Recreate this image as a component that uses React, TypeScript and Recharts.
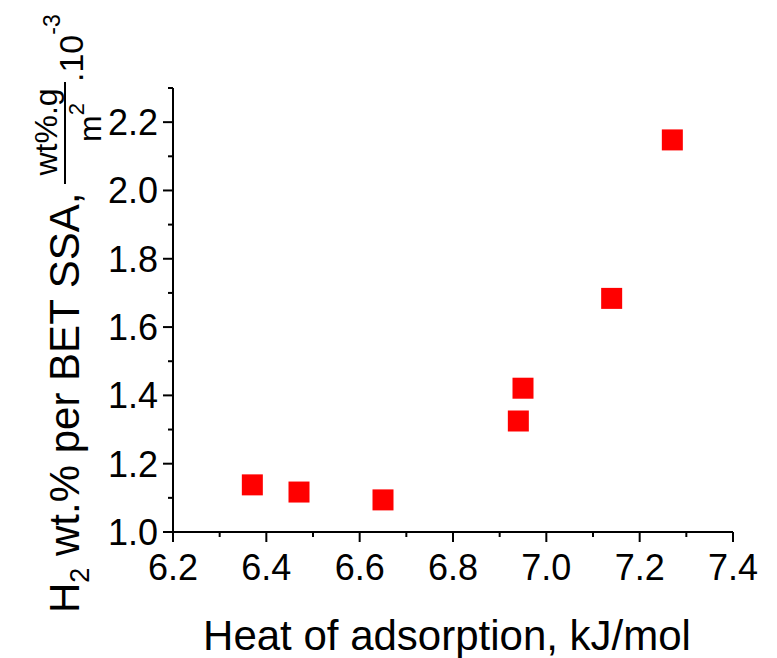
import React from 'react';
import { ScatterChart, Scatter, XAxis, YAxis, Label } from 'recharts';

// heat of adsorption (kJ/mol) vs H2 uptake per BET surface area
const heatOfAdsorption = [6.37, 6.47, 6.65, 6.94, 6.95, 7.14, 7.27];
const uptakePerSSA = [1.138, 1.117, 1.094, 1.325, 1.421, 1.684, 2.148];

const xTicks = [6.2, 6.3, 6.4, 6.5, 6.6, 6.7, 6.8, 6.9, 7.0, 7.1, 7.2, 7.3, 7.4];
const yTicks = [1.0, 1.1, 1.2, 1.3, 1.4, 1.5, 1.6, 1.7, 1.8, 1.9, 2.0, 2.1, 2.2, 2.3];

const data = heatOfAdsorption.map((x, i) => ({ x, y: uptakePerSSA[i] }));

const FONT = 'Liberation Sans, Arial, sans-serif';

const isMajor = (v: number) => Math.round(v * 10) % 2 === 0;

const XTick = ({ x, y, payload }: any) => {
  const major = isMajor(payload.value);
  return (
    <g>
      <line x1={x} x2={x} y1={y} y2={y + (major ? 10 : 5)} stroke="#000" strokeWidth={2} />
      {major && (
        <text x={x} y={y + 48} textAnchor="middle" fontSize={36} fontFamily={FONT} fill="#000">
          {payload.value.toFixed(1)}
        </text>
      )}
    </g>
  );
};

const YTick = ({ x, y, payload }: any) => {
  const major = isMajor(payload.value);
  return (
    <g>
      <line x1={x} x2={x - (major ? 10 : 5)} y1={y} y2={y} stroke="#000" strokeWidth={2} />
      {major && (
        <text x={x - 15} y={y} dy="0.36em" textAnchor="end" fontSize={36} fontFamily={FONT} fill="#000">
          {payload.value.toFixed(1)}
        </text>
      )}
    </g>
  );
};

const Square = (props: any) => {
  const { cx, cy } = props;
  return <rect x={cx - 10.5} y={cy - 10.5} width={21} height={21} fill="#ff0000" />;
};

const XTitle = ({ viewBox }: any) => (
  <text
    x={viewBox.x + viewBox.width / 2 - 6}
    y={viewBox.y + 118}
    textAnchor="middle"
    fontSize={42}
    fontFamily={FONT}
    fill="#000"
  >
    Heat of adsorption, kJ/mol
  </text>
);

// rotated title with the unit fraction, screen x = y', screen y = -x'
const YTitle = () => (
  <g fontFamily={FONT} fill="#000">
    <text transform="rotate(-90)" x={-613} y={79} fontSize={42}>
      H
      <tspan fontSize={27} dy={10}>2</tspan>
      <tspan dy={-10}> wt.% per BET SSA,</tspan>
    </text>
    <text transform="rotate(-90)" x={-132} y={57} fontSize={32} textAnchor="middle">
      wt%.g
    </text>
    <line x1={65} x2={65} y1={82} y2={184} stroke="#000" strokeWidth={2} />
    <text transform="rotate(-90)" x={-142} y={101} fontSize={32}>
      m<tspan fontSize={22} dy={-17}>2</tspan>
    </text>
    <text transform="rotate(-90)" x={-82} y={83} fontSize={34}>
      .10<tspan fontSize={23} dy={-23}>-3</tspan>
    </text>
  </g>
);

export default function App() {
  return (
    <div style={{ position: 'absolute', left: 0, top: 0, background: '#fff' }}>
      <ScatterChart width={777} height={658} margin={{ top: 88, right: 44, bottom: 0, left: 0 }}>
        <XAxis
          type="number"
          dataKey="x"
          domain={[6.2, 7.4]}
          ticks={xTicks}
          interval={0}
          height={126}
          tickSize={0}
          tickMargin={0}
          tickLine={false}
          axisLine={{ stroke: '#000', strokeWidth: 2 }}
          tick={<XTick />}
        >
          <Label content={<XTitle />} />
        </XAxis>
        <YAxis
          type="number"
          dataKey="y"
          domain={[1.0, 2.3]}
          ticks={yTicks}
          interval={0}
          width={173}
          tickSize={0}
          tickMargin={0}
          tickLine={false}
          axisLine={{ stroke: '#000', strokeWidth: 2 }}
          tick={<YTick />}
        >
          <Label content={<YTitle />} />
        </YAxis>
        <Scatter data={data} shape={<Square />} isAnimationActive={false} />
      </ScatterChart>
    </div>
  );
}
